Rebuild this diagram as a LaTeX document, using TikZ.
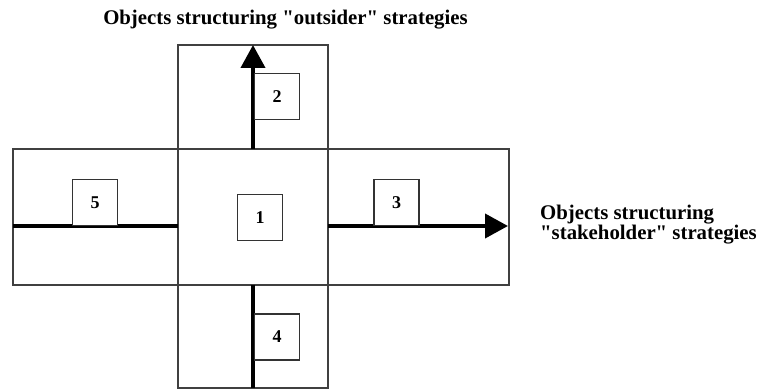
\documentclass[tikz,border=0pt]{standalone}
\usepackage{fontspec}
\setmainfont{Liberation Serif}
\usetikzlibrary{arrows.meta}
\begin{document}
\begin{tikzpicture}[x=1pt,y=-1pt,
  frame/.style={draw=black!75, line width=1.6pt, inner sep=0pt},
  numbox/.style={draw=black!80, line width=1.3pt, minimum width=45pt, minimum height=46pt,
    inner sep=0pt, font=\fontsize{18}{20}\selectfont\bfseries},
  axis/.style={line width=4pt},
  axisarrow/.style={line width=4pt, -{Triangle[length=23pt,width=24pt]}},
  caption/.style={font=\fontsize{20.8}{24}\selectfont\bfseries, inner sep=0pt}]
\useasboundingbox (0,0) rectangle (758,390);
% cross-shaped frame
\node[frame, minimum width=150pt, minimum height=343pt] (vband) at (253,216.5) {};
\node[frame, minimum width=496pt, minimum height=136pt] (hband) at (261,217) {};
% axis end points
\coordinate (upS) at (253,149);
\coordinate (upE) at (253,45);
\coordinate (dnS) at (253,285);
\coordinate (dnE) at (253,388);
\coordinate (lfS) at (13,226);
\coordinate (lfE) at (178,226);
\coordinate (rtS) at (328,226);
\coordinate (rtE) at (508,226);
\draw[axisarrow] (upS) -- (upE);
\draw[axis] (dnS) -- (dnE);
\draw[axis] (lfS) -- (lfE);
\draw[axisarrow] (rtS) -- (rtE);
% numbered boxes
\node[numbox, fill=white] (b1) at (260,217.5) {1};
\node[numbox, fill=white] (b2) at (277,96.5) {2};
\node[numbox, fill=white] (b3) at (396.5,202.5) {3};
\node[numbox, fill=white] (b4) at (277,337) {4};
\node[numbox, fill=white] (b5) at (95,202.5) {5};
% axis captions
\node[caption, anchor=base] (tcap) at (285.5,25) {Objects structuring \textquotedbl outsider\textquotedbl{} strategies};
\node[caption, anchor=base west, align=left] (rcap1) at (540,220) {Objects structuring};
\node[caption, anchor=base west, align=left] (rcap2) at (540,240) {\textquotedbl stakeholder\textquotedbl{} strategies};
\end{tikzpicture}
\end{document}
